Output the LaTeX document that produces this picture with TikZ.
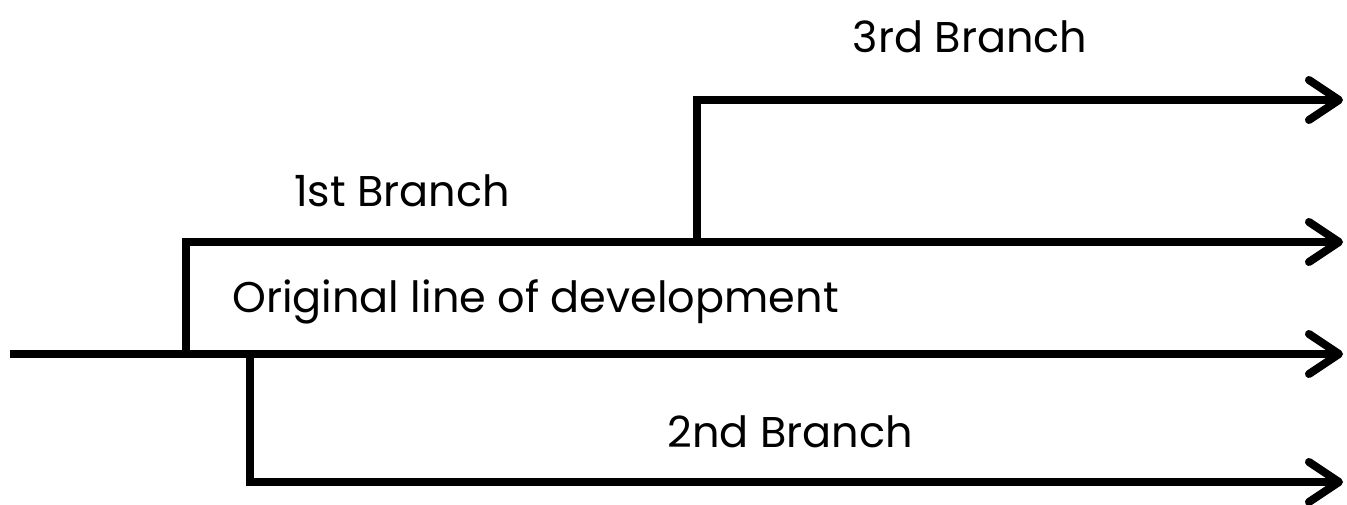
\documentclass[tikz,border=0pt]{standalone}
\usepackage{fontspec}
\setmainfont{Poppins}
\usetikzlibrary{arrows.meta}
\begin{document}
\begin{tikzpicture}[x=1pt,y=-1pt,
  branchline/.style={line width=8pt, line join=miter},
  arrowline/.style={branchline, -{Straight Barb[length=30pt,width=40pt,line cap=round,line join=round]}},
  lbl/.style={font=\fontsize{43}{50}\selectfont, inner sep=0pt, anchor=base}]
  \useasboundingbox (0,0) rectangle (1347,504);
  % branch points and line ends
  \coordinate (start) at (10,354);
  \coordinate (b1) at (186,354);
  \coordinate (b1top) at (186,242);
  \coordinate (b2) at (250,354);
  \coordinate (b2bot) at (250,482);
  \coordinate (b3) at (697,242);
  \coordinate (b3top) at (697,100);
  \coordinate (endmain) at (1343,354);
  \coordinate (end1) at (1343,242);
  \coordinate (end2) at (1343,482);
  \coordinate (end3) at (1343,100);
  % original line
  \draw[arrowline] (start) -- (endmain);
  % first branch
  \draw[arrowline] (b1) -- (b1top) -- (end1);
  % second branch
  \draw[arrowline] (b2) -- (b2bot) -- (end2);
  % third branch, taken from the first
  \draw[arrowline] (b3) -- (b3top) -- (end3);
  % labels
  \node[lbl] (t3) at (970,52) {3rd Branch};
  \node[lbl] (t1) at (402,206) {1st Branch};
  \node[lbl, anchor=base west] (t0) at (232,312) {Original line of development};
  \node[lbl] (t2) at (790,447) {2nd Branch};
\end{tikzpicture}
\end{document}
